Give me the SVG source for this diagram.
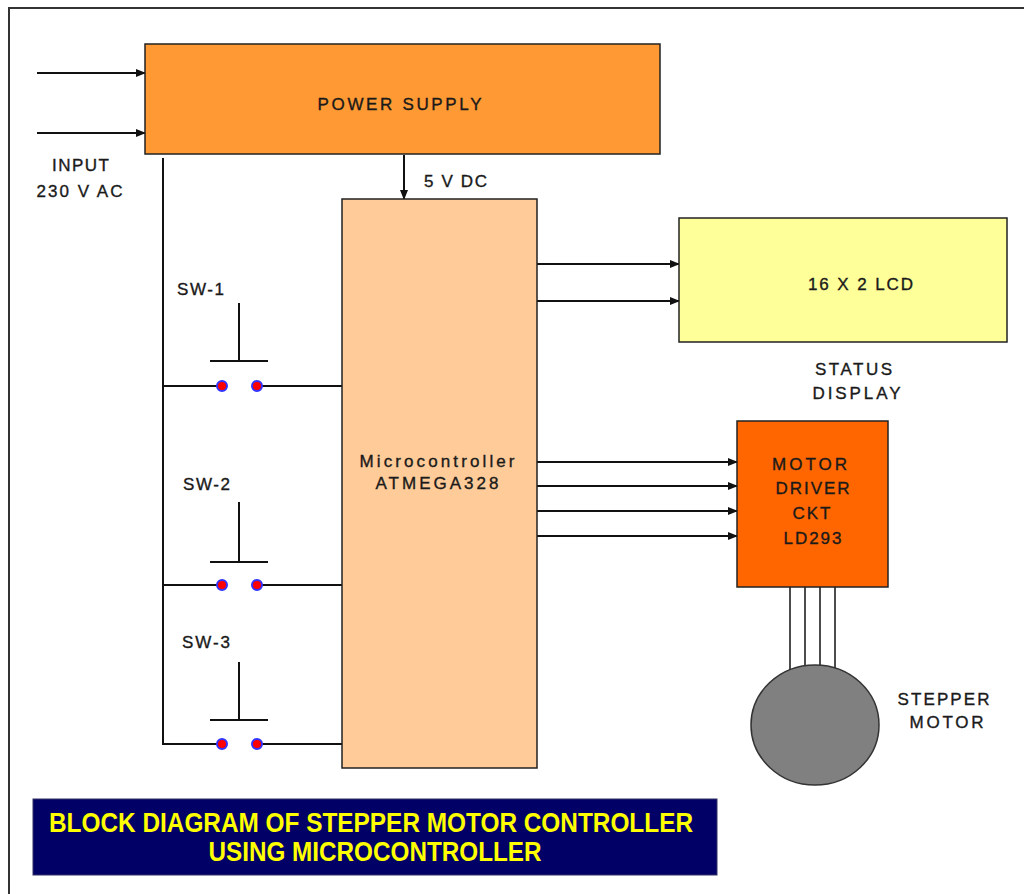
<svg xmlns="http://www.w3.org/2000/svg" width="1024" height="894" viewBox="0 0 1024 894">
<style>
.box{stroke:#222;stroke-width:1.5}
.t{font-family:"Liberation Sans",Arial,sans-serif;font-size:17px;fill:#1a1a1a;letter-spacing:1px;stroke:#1a1a1a;stroke-width:0.35}
.w{stroke:#111;stroke-width:2;fill:none}
.th{stroke:#111;stroke-width:1.5;fill:none}
.dot{fill:#ff0000;stroke:#3333ff;stroke-width:2}
.title{font-family:"Liberation Sans",Arial,sans-serif;font-size:27px;font-weight:bold;fill:#ffff00}
</style>
<defs>
<marker id="ah" markerWidth="10" markerHeight="8" refX="9" refY="4" orient="auto" markerUnits="userSpaceOnUse">
<path d="M0,0 L10,4 L0,8 Z" fill="#111"/>
</marker>
</defs>
<rect width="1024" height="894" fill="#ffffff"/>
<path d="M9,894 L9,8 L1024,8" fill="none" stroke="#333" stroke-width="2"/>

<g id="connectors">
<line class="w" x1="37" y1="73" x2="145" y2="73" marker-end="url(#ah)"/>
<line class="w" x1="37" y1="133" x2="145" y2="133" marker-end="url(#ah)"/>
<line class="w" x1="404" y1="155" x2="404" y2="199" marker-end="url(#ah)"/>
<polyline class="w" points="163,158 163,744 222,744"/>
<line class="w" x1="163" y1="386" x2="222" y2="386"/>
<line class="w" x1="163" y1="585" x2="222" y2="585"/>
<line class="w" x1="257" y1="386" x2="342" y2="386"/>
<line class="w" x1="257" y1="585" x2="342" y2="585"/>
<line class="w" x1="257" y1="744" x2="342" y2="744"/>
<line class="w" x1="537" y1="264" x2="679" y2="264" marker-end="url(#ah)"/>
<line class="w" x1="537" y1="301" x2="679" y2="301" marker-end="url(#ah)"/>
<line class="w" x1="537" y1="462" x2="737" y2="462" marker-end="url(#ah)"/>
<line class="w" x1="537" y1="486" x2="737" y2="486" marker-end="url(#ah)"/>
<line class="w" x1="537" y1="511" x2="737" y2="511" marker-end="url(#ah)"/>
<line class="w" x1="537" y1="536" x2="737" y2="536" marker-end="url(#ah)"/>
<line class="th" x1="790" y1="587" x2="790" y2="670"/>
<line class="th" x1="805" y1="587" x2="805" y2="667"/>
<line class="th" x1="820" y1="587" x2="820" y2="667"/>
<line class="th" x1="835" y1="587" x2="835" y2="670"/>
</g>

<g id="power-supply">
<rect class="box" x="145" y="44" width="515" height="110" fill="#ff9933"/>
<text class="t" x="400" y="110" text-anchor="middle" textLength="165">POWER SUPPLY</text>
</g>

<g id="input-label">
<text class="t" x="81" y="171" text-anchor="middle" textLength="58">INPUT</text>
<text class="t" x="80" y="197" text-anchor="middle" textLength="87">230 V AC</text>
</g>

<g id="dc-label">
<text class="t" x="424" y="187" textLength="64">5 V DC</text>
</g>

<g id="microcontroller">
<rect class="box" x="342" y="199" width="195" height="569" fill="#ffcc99"/>
<text class="t" x="437" y="467" text-anchor="middle" textLength="155" style="letter-spacing:0">Microcontroller</text>
<text class="t" x="437" y="489" text-anchor="middle" textLength="123" style="letter-spacing:0">ATMEGA328</text>
</g>

<g id="sw1">
<text class="t" x="177" y="295" textLength="47" style="letter-spacing:0">SW-1</text>
<line class="w" x1="239" y1="303" x2="239" y2="361"/>
<line class="w" x1="210" y1="361" x2="268" y2="361"/>
<circle class="dot" cx="222" cy="386" r="5"/>
<circle class="dot" cx="257" cy="386" r="5"/>
</g>

<g id="sw2">
<text class="t" x="183" y="490" textLength="47" style="letter-spacing:0">SW-2</text>
<line class="w" x1="239" y1="502" x2="239" y2="562"/>
<line class="w" x1="210" y1="562" x2="268" y2="562"/>
<circle class="dot" cx="222" cy="585" r="5"/>
<circle class="dot" cx="257" cy="585" r="5"/>
</g>

<g id="sw3">
<text class="t" x="182" y="648" textLength="48" style="letter-spacing:0">SW-3</text>
<line class="w" x1="239" y1="662" x2="239" y2="720"/>
<line class="w" x1="210" y1="720" x2="268" y2="720"/>
<circle class="dot" cx="222" cy="744" r="5"/>
<circle class="dot" cx="257" cy="744" r="5"/>
</g>

<g id="lcd">
<rect class="box" x="679" y="218" width="328" height="124" fill="#ffff99"/>
<text class="t" x="861" y="290" text-anchor="middle" textLength="106">16 X 2 LCD</text>
</g>

<g id="status-label">
<text class="t" x="854" y="375" text-anchor="middle" textLength="78">STATUS</text>
<text class="t" x="857" y="399" text-anchor="middle" textLength="89">DISPLAY</text>
</g>

<g id="motor-driver">
<rect class="box" x="737" y="421" width="151" height="166" fill="#ff6600"/>
<text class="t" x="810" y="470" text-anchor="middle" textLength="76">MOTOR</text>
<text class="t" x="813" y="494" text-anchor="middle" textLength="75">DRIVER</text>
<text class="t" x="812" y="519" text-anchor="middle" textLength="39">CKT</text>
<text class="t" x="813" y="544" text-anchor="middle" textLength="59">LD293</text>
</g>

<g id="stepper-motor">
<ellipse cx="815" cy="725" rx="64" ry="60" fill="#808080" stroke="#333" stroke-width="1.5"/>
<text class="t" x="944" y="705" text-anchor="middle" textLength="93">STEPPER</text>
<text class="t" x="947" y="728" text-anchor="middle" textLength="75">MOTOR</text>
</g>

<g id="title">
<rect x="33" y="799" width="684" height="76" fill="#000066" stroke="#333366" stroke-width="1"/>
<text class="title" x="371" y="832" text-anchor="middle" textLength="644" lengthAdjust="spacingAndGlyphs">BLOCK DIAGRAM OF STEPPER MOTOR CONTROLLER</text>
<text class="title" x="375" y="861" text-anchor="middle" textLength="333" lengthAdjust="spacingAndGlyphs">USING MICROCONTROLLER</text>
</g>
</svg>
